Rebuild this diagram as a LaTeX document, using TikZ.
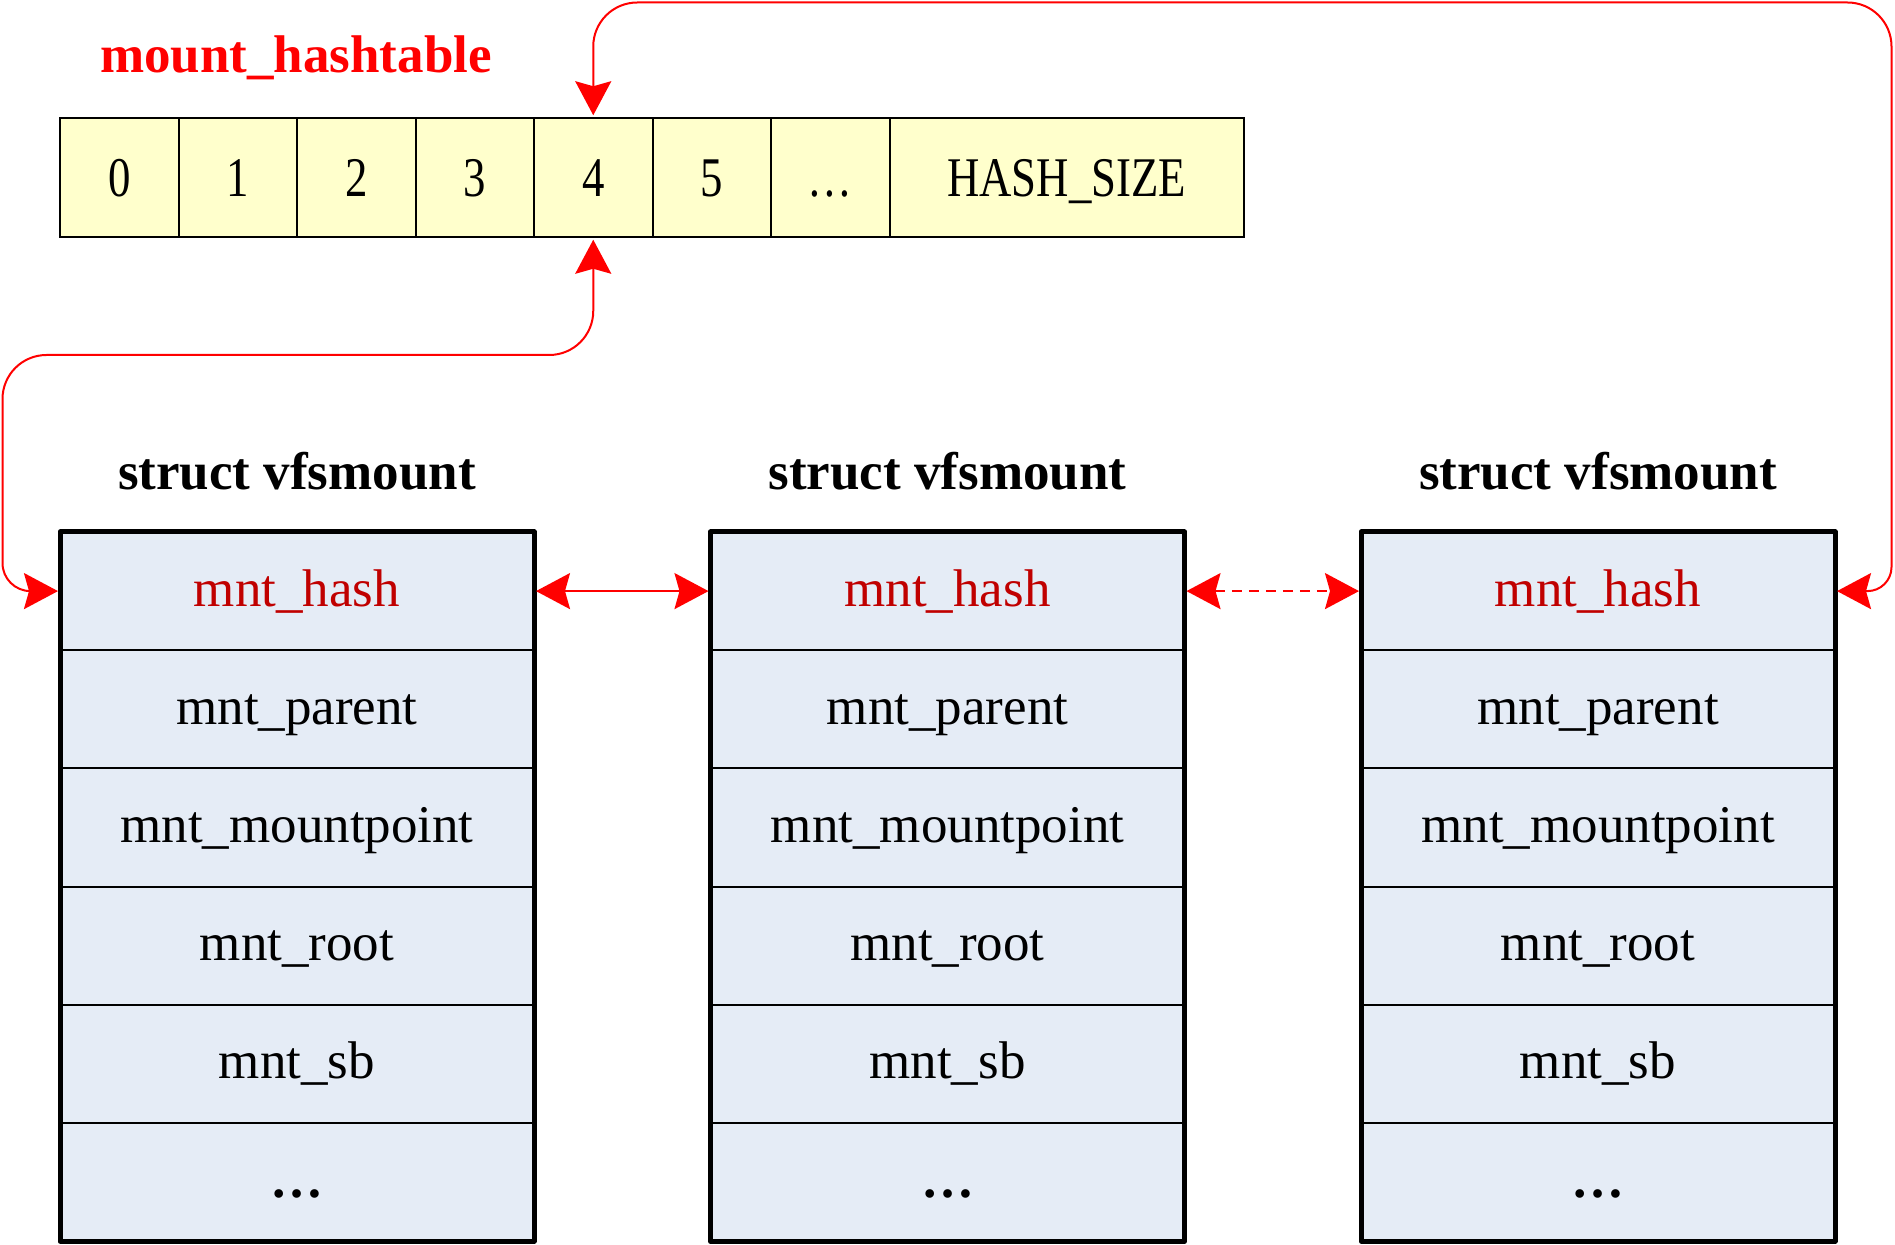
\documentclass[tikz,border=0pt]{standalone}
\usepackage{fontspec}
\setmainfont{Liberation Serif}
\usetikzlibrary{arrows.meta}
\definecolor{linkred}{HTML}{FF0000}
\definecolor{fieldred}{HTML}{C00000}
\definecolor{cellyellow}{HTML}{FFFFCC}
\definecolor{boxblue}{HTML}{E5ECF6}
\newcommand{\tcelltext}[1]{\scalebox{0.8}[1]{#1}}
\begin{document}
\begin{tikzpicture}[x=0.5pt, y=-0.5pt,
  cell/.style={draw=black, line width=1pt, fill=cellyellow, minimum width=59.25pt,
    minimum height=59.25pt, inner sep=0pt, text height=19pt, text depth=0pt,
    font=\fontsize{28}{32}\selectfont},
  field/.style={draw=black, line width=1pt, fill=boxblue, minimum width=237pt,
    minimum height=59.1pt, inner sep=0pt, outer sep=0pt, text height=19pt, text depth=4pt,
    font=\fontsize{26.5}{30}\selectfont},
  boxframe/.style={draw=black, line width=2.5pt, line join=round},
  title/.style={anchor=base, font=\bfseries\fontsize{26.5}{30}\selectfont},
  tablelabel/.style={anchor=base, text=linkred, font=\bfseries\fontsize{26.5}{30}\selectfont},
  link/.style={draw=linkred, line width=1pt, shorten <=1pt, shorten >=1pt,
    {Stealth[length=17pt,width=18pt,inset=2.5pt]}-{Stealth[length=17pt,width=18pt,inset=2.5pt]}},
]
\useasboundingbox (0,0) rectangle (1895,1245);

% hash table
\node[tablelabel] (lbl) at (296,73) {mount\_hashtable};
\node[cell] (c0) at (119.25,177.5) {\tcelltext{0}};
\node[cell] (c1) at (237.75,177.5) {\tcelltext{1}};
\node[cell] (c2) at (356.25,177.5) {\tcelltext{2}};
\node[cell] (c3) at (474.75,177.5) {\tcelltext{3}};
\node[cell] (c4) at (593.25,177.5) {\tcelltext{4}};
\node[cell] (c5) at (711.75,177.5) {\tcelltext{5}};
\node[cell] (c6) at (830.25,177.5) {\tcelltext{…}};
\node[cell, minimum width=177.25pt] (c7) at (1066.75,177.5) {\tcelltext{HASH\_SIZE}};

% struct boxes
\foreach \b/\cx in {1/297, 2/947.5, 3/1598} {
  \node[title] (t\b) at (\cx,489.5) {struct vfsmount};
  \node[field, text=fieldred] (b\b r1) at (\cx,591.1) {mnt\_hash};
  \node[field] (b\b r2) at (\cx,709.3) {mnt\_parent};
  \node[field] (b\b r3) at (\cx,827.5) {mnt\_mountpoint};
  \node[field] (b\b r4) at (\cx,945.7) {mnt\_root};
  \node[field] (b\b r5) at (\cx,1063.9) {mnt\_sb};
  \node[field] (b\b r6) at (\cx,1182.1) {\textbf{…}};
  \draw[boxframe] (b\b r1.north west) rectangle (b\b r6.south east);
}

% links
\coordinate (tr) at (1891.5,2.5);
\coordinate (bl) at (2.5,355);
\draw[link] (b1r1.east) -- (b2r1.west);
\draw[link, dash pattern=on 5pt off 3.5pt] (b2r1.east) -- (b3r1.west);
\draw[link] (b3r1.east) [rounded corners=12pt] -- (b3r1.east -| tr)
  [rounded corners=22pt] -- (tr) -- (tr -| c4.north) -- (c4.north);
\draw[link] (c4.south) [rounded corners=22pt] -- (c4.south |- bl) -- (bl)
  [rounded corners=14pt] -- (bl |- b1r1.west) -- (b1r1.west);
\end{tikzpicture}
\end{document}
